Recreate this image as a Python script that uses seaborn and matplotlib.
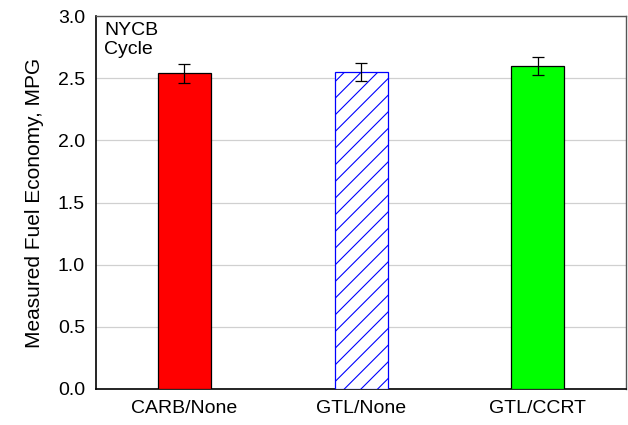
import pandas as pd
import numpy as np
import matplotlib
matplotlib.use("Agg")
import matplotlib.pyplot as plt
import seaborn as sns

# ── Chart data ───────────────────────────────────────────────────────────
configs = ["CARB/None", "GTL/None", "GTL/CCRT"]
mpg = [2.54, 2.55, 2.60]
mpg_err = [0.075, 0.075, 0.075]
bar_colors = ["#FF0000", "#FFFFFF", "#00FF00"]
y_ticks = [0.0, 0.5, 1.0, 1.5, 2.0, 2.5, 3.0]

sns.set_style("white")
plt.rcParams['font.family'] = ['Liberation Sans', 'DejaVu Sans']
plt.rcParams['hatch.linewidth'] = 0.8
plt.rcParams['text.color'] = 'black'
plt.rcParams['axes.labelcolor'] = 'black'

df = pd.DataFrame({"config": configs, "mpg": mpg})

fig = plt.figure(figsize=(6.28, 4.25), dpi=100)
ax = fig.add_axes([0.153, 0.085, 0.844, 0.877])

sns.barplot(data=df, x="config", y="mpg", hue="config", palette=bar_colors,
            legend=False, width=0.3, errorbar=None, saturation=1,
            edgecolor="black", linewidth=0.9, ax=ax, zorder=3)

# hatched blue bar for GTL/None
patch = ax.patches[1]
patch.set_facecolor("white")
patch.set_edgecolor("#0000FF")
patch.set_hatch("//")

ax.errorbar(np.arange(len(configs)), mpg, yerr=mpg_err, fmt="none",
            ecolor="black", elinewidth=0.9, capsize=4.5, capthick=0.9, zorder=4)

ax.set_xlim(-0.5, 2.5)
ax.set_ylim(0, 3.0)
ax.set_yticks(y_ticks)
ax.set_yticklabels([f"{t:.1f}" for t in y_ticks])
ax.yaxis.grid(True, color="#D0D0D0", linewidth=0.9, zorder=0)
ax.set_axisbelow(True)

ax.set_xlabel("")
ax.set_ylabel("Measured Fuel Economy, MPG", fontsize=15, labelpad=10)
ax.tick_params(axis="both", labelsize=14, direction="out", length=4,
               width=0.9, colors="black", pad=4)

for side in ["left", "bottom"]:
    ax.spines[side].set_color("black")
    ax.spines[side].set_linewidth(1.2)
for side in ["top", "right"]:
    ax.spines[side].set_color("#555555")
    ax.spines[side].set_linewidth(1.0)

ax.text(0.015, 0.985, "NYCB\nCycle", transform=ax.transAxes, fontsize=14,
        va="top", ha="left", linespacing=1.15)

plt.savefig("out.png", dpi=100)
plt.close()
